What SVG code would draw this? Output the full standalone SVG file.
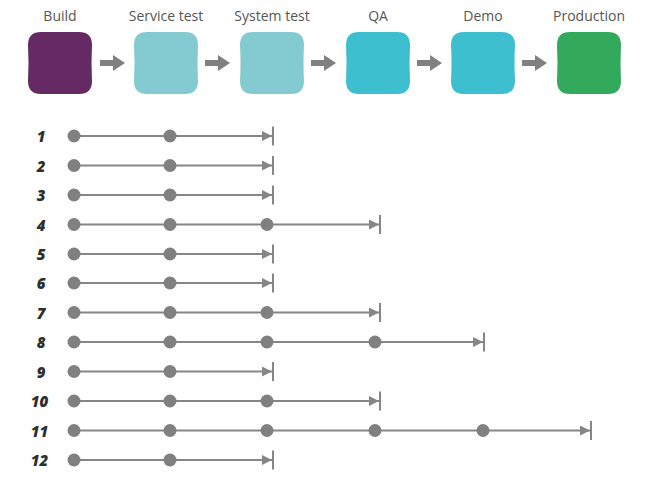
<svg xmlns="http://www.w3.org/2000/svg" width="662" height="479" viewBox="0 0 662 479">
<defs>
<style>
.lbl{font-family:"Open Sans","Liberation Sans",sans-serif;font-size:14px;fill:#555;text-anchor:middle}
.num{font-family:"Open Sans","Liberation Sans",sans-serif;font-size:15px;font-weight:800;font-style:italic;fill:#2e2e2e;text-anchor:middle}
.ln{stroke:#868686;stroke-width:2;fill:none}
.bar{stroke:#868686;stroke-width:2}
.dot{fill:#808080}
.stg{fill:#808080}
</style>
<marker id="ah" markerUnits="userSpaceOnUse" markerWidth="10" markerHeight="10" refX="10" refY="5" orient="auto">
<path d="M0,0 L10,5 L0,10 Z" fill="#868686"/>
</marker>
<path id="box" d="M13,0 H51 Q64,0 64,13 Q63,31 64,49 Q64,62 51,62 H13 Q0,62 0,49 Q1,31 0,13 Q0,0 13,0 Z"/>
</defs>
<g id="stage-build"><use href="#box" x="28" y="32" fill="#652a64"/><text class="lbl" x="60" y="21">Build</text></g>
<g id="stage-service"><use href="#box" x="134" y="32" fill="#84cbd1"/><text class="lbl" x="166" y="21">Service test</text></g>
<g id="stage-system"><use href="#box" x="240" y="32" fill="#84cbd1"/><text class="lbl" x="272" y="21">System test</text></g>
<g id="stage-qa"><use href="#box" x="346" y="32" fill="#3dbfcf"/><text class="lbl" x="378" y="21">QA</text></g>
<g id="stage-demo"><use href="#box" x="451" y="32" fill="#3dbfcf"/><text class="lbl" x="483" y="21">Demo</text></g>
<g id="stage-production"><use href="#box" x="557" y="32" fill="#33a95c"/><text class="lbl" x="589" y="21">Production</text></g>
<g id="connectors">
<path class="stg" d="M100,60 H113 V55 L125,63 L113,71 V66 H100 Z"/>
<path class="stg" d="M205,60 H218 V55 L230,63 L218,71 V66 H205 Z"/>
<path class="stg" d="M311,60 H324 V55 L336,63 L324,71 V66 H311 Z"/>
<path class="stg" d="M417,60 H430 V55 L442,63 L430,71 V66 H417 Z"/>
<path class="stg" d="M522,60 H535 V55 L547,63 L535,71 V66 H522 Z"/>
<line class="ln" x1="74" y1="136" x2="272" y2="136" marker-end="url(#ah)"/>
<line class="ln" x1="74" y1="165.5" x2="272" y2="165.5" marker-end="url(#ah)"/>
<line class="ln" x1="74" y1="195" x2="272" y2="195" marker-end="url(#ah)"/>
<line class="ln" x1="74" y1="224.5" x2="379" y2="224.5" marker-end="url(#ah)"/>
<line class="ln" x1="74" y1="254" x2="272" y2="254" marker-end="url(#ah)"/>
<line class="ln" x1="74" y1="283" x2="272" y2="283" marker-end="url(#ah)"/>
<line class="ln" x1="74" y1="312.5" x2="379" y2="312.5" marker-end="url(#ah)"/>
<line class="ln" x1="74" y1="342" x2="483" y2="342" marker-end="url(#ah)"/>
<line class="ln" x1="74" y1="371.5" x2="272" y2="371.5" marker-end="url(#ah)"/>
<line class="ln" x1="74" y1="401" x2="379" y2="401" marker-end="url(#ah)"/>
<line class="ln" x1="74" y1="430.5" x2="590" y2="430.5" marker-end="url(#ah)"/>
<line class="ln" x1="74" y1="460" x2="272" y2="460" marker-end="url(#ah)"/>
</g>
<g id="row-1"><text class="num" x="41" y="142">1</text><circle class="dot" cx="74" cy="136" r="6.5"/><circle class="dot" cx="170" cy="136" r="6.5"/><line class="bar" x1="273" y1="126.5" x2="273" y2="145.5"/></g>
<g id="row-2"><text class="num" x="41" y="171.5">2</text><circle class="dot" cx="74" cy="165.5" r="6.5"/><circle class="dot" cx="170" cy="165.5" r="6.5"/><line class="bar" x1="273" y1="156" x2="273" y2="175"/></g>
<g id="row-3"><text class="num" x="41" y="201">3</text><circle class="dot" cx="74" cy="195" r="6.5"/><circle class="dot" cx="170" cy="195" r="6.5"/><line class="bar" x1="273" y1="185.5" x2="273" y2="204.5"/></g>
<g id="row-4"><text class="num" x="41" y="230.5">4</text><circle class="dot" cx="74" cy="224.5" r="6.5"/><circle class="dot" cx="170" cy="224.5" r="6.5"/><circle class="dot" cx="267" cy="224.5" r="6.5"/><line class="bar" x1="380" y1="215" x2="380" y2="234"/></g>
<g id="row-5"><text class="num" x="41" y="260">5</text><circle class="dot" cx="74" cy="254" r="6.5"/><circle class="dot" cx="170" cy="254" r="6.5"/><line class="bar" x1="273" y1="244.5" x2="273" y2="263.5"/></g>
<g id="row-6"><text class="num" x="41" y="289">6</text><circle class="dot" cx="74" cy="283" r="6.5"/><circle class="dot" cx="170" cy="283" r="6.5"/><line class="bar" x1="273" y1="273.5" x2="273" y2="292.5"/></g>
<g id="row-7"><text class="num" x="41" y="318.5">7</text><circle class="dot" cx="74" cy="312.5" r="6.5"/><circle class="dot" cx="170" cy="312.5" r="6.5"/><circle class="dot" cx="267" cy="312.5" r="6.5"/><line class="bar" x1="380" y1="303" x2="380" y2="322"/></g>
<g id="row-8"><text class="num" x="41" y="348">8</text><circle class="dot" cx="74" cy="342" r="6.5"/><circle class="dot" cx="170" cy="342" r="6.5"/><circle class="dot" cx="267" cy="342" r="6.5"/><circle class="dot" cx="375" cy="342" r="6.5"/><line class="bar" x1="484" y1="332.5" x2="484" y2="351.5"/></g>
<g id="row-9"><text class="num" x="41" y="377.5">9</text><circle class="dot" cx="74" cy="371.5" r="6.5"/><circle class="dot" cx="170" cy="371.5" r="6.5"/><line class="bar" x1="273" y1="362" x2="273" y2="381"/></g>
<g id="row-10"><text class="num" x="39.5" y="407">10</text><circle class="dot" cx="74" cy="401" r="6.5"/><circle class="dot" cx="170" cy="401" r="6.5"/><circle class="dot" cx="267" cy="401" r="6.5"/><line class="bar" x1="380" y1="391.5" x2="380" y2="410.5"/></g>
<g id="row-11"><text class="num" x="39.5" y="436.5">11</text><circle class="dot" cx="74" cy="430.5" r="6.5"/><circle class="dot" cx="170" cy="430.5" r="6.5"/><circle class="dot" cx="267" cy="430.5" r="6.5"/><circle class="dot" cx="375" cy="430.5" r="6.5"/><circle class="dot" cx="483" cy="430.5" r="6.5"/><line class="bar" x1="591" y1="421" x2="591" y2="440"/></g>
<g id="row-12"><text class="num" x="39.5" y="466">12</text><circle class="dot" cx="74" cy="460" r="6.5"/><circle class="dot" cx="170" cy="460" r="6.5"/><line class="bar" x1="273" y1="450.5" x2="273" y2="469.5"/></g>
</svg>
